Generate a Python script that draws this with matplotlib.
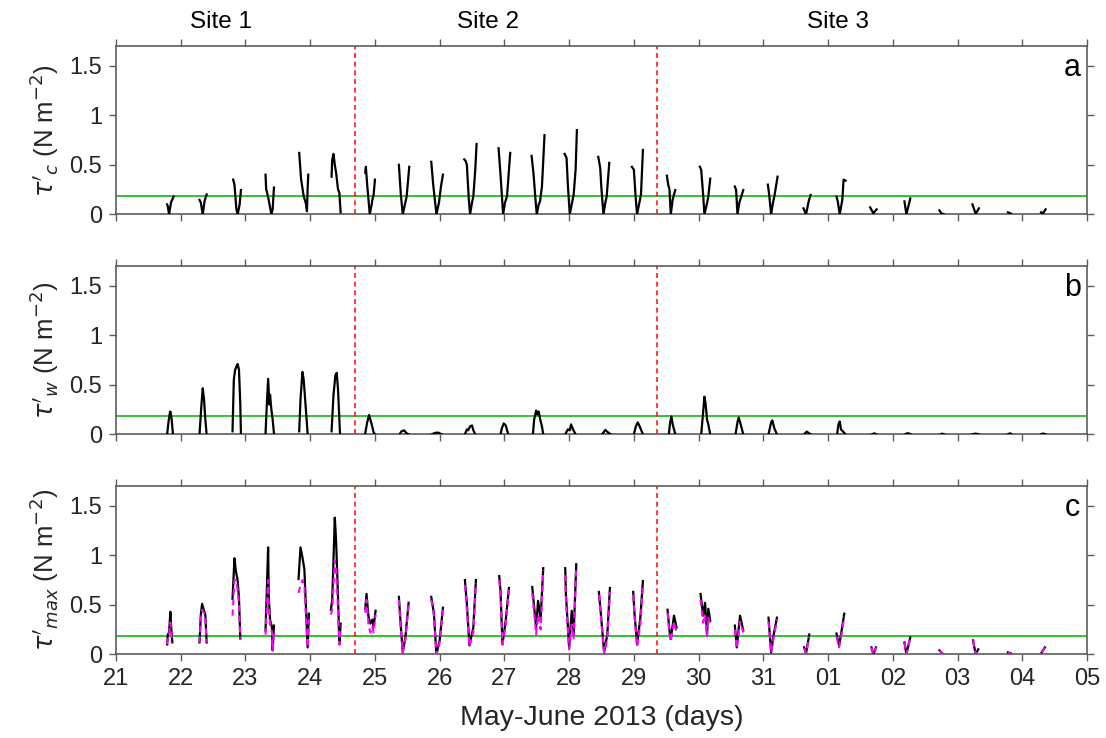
import matplotlib
matplotlib.use("Agg")
import matplotlib.pyplot as plt
import numpy as np

plt.rcParams['font.family'] = ['Liberation Sans', 'DejaVu Sans']
plt.rcParams['mathtext.fontset'] = 'dejavusans'

# ---------------- data (day of May 2013; June 1 = 32) ----------------
xticks = list(range(21, 37))
xtick_labels = ['21', '22', '23', '24', '25', '26', '27', '28', '29', '30', '31',
                '01', '02', '03', '04', '05']
yticks = [0, 0.5, 1, 1.5]
ytick_labels = ['0', '0.5', '1', '1.5']
threshold = 0.18
site_bounds = [24.69, 29.35]
site_names = ['Site 1', 'Site 2', 'Site 3']
site_label_x = [22.62, 26.75, 32.15]

# panel a: current stress bursts
tc_t = [
    [21.79, 21.80, 21.82, 21.85, 21.89],
    [22.29, 22.31, 22.34, 22.37, 22.40],
    [22.81, 22.83, 22.86, 22.88, 22.91, 22.93],
    [23.31, 23.32, 23.33, 23.36, 23.40, 23.42, 23.44],
    [23.83, 23.86, 23.90, 23.93, 23.95, 23.96, 23.97],
    [24.33, 24.34, 24.36, 24.38, 24.40, 24.43, 24.45, 24.47],
    [24.85, 24.86, 24.88, 24.92, 24.95, 24.96, 24.98, 25.00],
    [25.37, 25.40, 25.43, 25.47, 25.49, 25.53],
    [25.87, 25.90, 25.95, 25.99, 26.02, 26.05],
    [26.38, 26.40, 26.42, 26.45, 26.47, 26.50, 26.52, 26.55, 26.57],
    [26.91, 26.94, 26.98, 27.01, 27.04, 27.09],
    [27.42, 27.45, 27.48, 27.50, 27.53, 27.55, 27.58, 27.62],
    [27.93, 27.96, 27.98, 28.01, 28.04, 28.07, 28.10, 28.12],
    [28.45, 28.48, 28.50, 28.53, 28.56, 28.58, 28.62],
    [28.97, 29.00, 29.03, 29.05, 29.09, 29.11, 29.14],
    [29.51, 29.53, 29.55, 29.57, 29.60, 29.62, 29.64],
    [30.02, 30.04, 30.07, 30.09, 30.13, 30.15, 30.18],
    [30.56, 30.58, 30.60, 30.63, 30.66, 30.69],
    [31.07, 31.09, 31.12, 31.15, 31.17, 31.22],
    [31.62, 31.66, 31.70, 31.73],
    [32.13, 32.15, 32.18, 32.22, 32.24, 32.27],
    [32.65, 32.70, 32.75],
    [33.18, 33.21, 33.24, 33.27],
    [33.72, 33.75, 33.79],
    [34.23, 34.28, 34.33],
    [34.78, 34.83],
    [35.29, 35.32, 35.36],
]
tc_v = [
    [0.10, 0.08, 0.00, 0.12, 0.18],
    [0.145, 0.12, 0.00, 0.14, 0.20],
    [0.35, 0.30, 0.05, 0.00, 0.10, 0.245],
    [0.40, 0.25, 0.23, 0.14, 0.00, 0.05, 0.27],
    [0.62, 0.35, 0.18, 0.12, 0.03, 0.25, 0.40],
    [0.38, 0.55, 0.61, 0.50, 0.42, 0.25, 0.22, 0.02],
    [0.42, 0.48, 0.30, 0.00, 0.10, 0.145, 0.20, 0.35],
    [0.50, 0.20, 0.00, 0.12, 0.18, 0.48],
    [0.53, 0.30, 0.00, 0.12, 0.28, 0.40],
    [0.555, 0.54, 0.50, 0.15, 0.00, 0.12, 0.18, 0.45, 0.71],
    [0.667, 0.40, 0.00, 0.12, 0.18, 0.62],
    [0.59, 0.41, 0.15, 0.00, 0.10, 0.13, 0.28, 0.80],
    [0.61, 0.57, 0.30, 0.00, 0.10, 0.20, 0.45, 0.85],
    [0.58, 0.47, 0.25, 0.00, 0.12, 0.18, 0.52],
    [0.48, 0.45, 0.15, 0.00, 0.13, 0.20, 0.65],
    [0.39, 0.30, 0.25, 0.00, 0.15, 0.20, 0.245],
    [0.48, 0.45, 0.20, 0.00, 0.11, 0.18, 0.36],
    [0.28, 0.245, 0.00, 0.12, 0.18, 0.245],
    [0.30, 0.20, 0.00, 0.12, 0.18, 0.38],
    [0.06, 0.00, 0.13, 0.195],
    [0.18, 0.13, 0.00, 0.145, 0.35, 0.34],
    [0.07, 0.01, 0.05],
    [0.13, 0.00, 0.08, 0.16],
    [0.04, 0.01, 0.00],
    [0.10, 0.005, 0.06],
    [0.02, 0.005],
    [0.02, 0.01, 0.05],
]

# panel b: wave stress bursts
tw_t = [
    [21.79, 21.81, 21.83, 21.84, 21.86, 21.88],
    [22.29, 22.32, 22.34, 22.36, 22.38, 22.40],
    [22.80, 22.82, 22.84, 22.87, 22.88, 22.90, 22.92, 22.93],
    [23.31, 23.33, 23.35, 23.37, 23.38, 23.40, 23.42, 23.44],
    [23.83, 23.85, 23.88, 23.90, 23.94, 23.96],
    [24.33, 24.36, 24.39, 24.41, 24.43, 24.46],
    [24.85, 24.88, 24.91, 24.95, 24.98, 25.00],
    [25.38, 25.41, 25.45, 25.49, 25.52],
    [25.88, 25.93, 25.98, 26.03],
    [26.39, 26.42, 26.44, 26.47, 26.50, 26.52, 26.55],
    [26.94, 26.96, 26.99, 27.02, 27.06],
    [27.44, 27.46, 27.49, 27.51, 27.53, 27.55, 27.58, 27.60],
    [27.94, 27.98, 28.01, 28.03, 28.06, 28.10],
    [28.51, 28.56, 28.58, 28.64],
    [29.00, 29.03, 29.06, 29.09, 29.14],
    [29.54, 29.56, 29.58, 29.60, 29.64],
    [30.04, 30.07, 30.09, 30.11, 30.13, 30.15, 30.18],
    [30.57, 30.60, 30.62, 30.65, 30.69],
    [31.08, 31.12, 31.14, 31.17, 31.21],
    [31.63, 31.67, 31.73],
    [32.14, 32.16, 32.18, 32.20, 32.27],
    [32.68, 32.71, 32.75],
    [33.19, 33.23, 33.28],
    [33.74, 33.76, 33.79],
    [34.23, 34.28, 34.33],
    [34.78, 34.81, 34.84],
    [35.29, 35.32, 35.36],
]
tw_v = [
    [0.00, 0.12, 0.21, 0.23, 0.15, 0.00],
    [0.00, 0.30, 0.465, 0.35, 0.15, 0.00],
    [0.03, 0.55, 0.65, 0.70, 0.71, 0.65, 0.30, 0.01],
    [0.01, 0.30, 0.56, 0.30, 0.40, 0.25, 0.15, 0.01],
    [0.03, 0.35, 0.63, 0.55, 0.20, 0.01],
    [0.03, 0.40, 0.60, 0.62, 0.45, 0.01],
    [0.01, 0.12, 0.195, 0.10, 0.02, 0.00],
    [0.00, 0.03, 0.04, 0.01, 0.00],
    [0.00, 0.015, 0.017, 0.00],
    [0.00, 0.05, 0.04, 0.08, 0.09, 0.04, 0.00],
    [0.00, 0.06, 0.11, 0.09, 0.00],
    [0.00, 0.15, 0.24, 0.20, 0.23, 0.16, 0.08, 0.00],
    [0.00, 0.05, 0.04, 0.10, 0.05, 0.00],
    [0.00, 0.045, 0.03, 0.00],
    [0.00, 0.08, 0.12, 0.08, 0.00],
    [0.00, 0.12, 0.18, 0.10, 0.00],
    [0.00, 0.22, 0.38, 0.30, 0.15, 0.10, 0.00],
    [0.00, 0.12, 0.17, 0.10, 0.00],
    [0.00, 0.12, 0.14, 0.06, 0.00],
    [0.00, 0.027, 0.00],
    [0.00, 0.10, 0.13, 0.05, 0.00],
    [0.00, 0.01, 0.00],
    [0.00, 0.012, 0.00],
    [0.00, 0.007, 0.00],
    [0.00, 0.007, 0.00],
    [0.00, 0.01, 0.00],
    [0.00, 0.008, 0.00],
]

# panel c: maximum stress bursts (black) and alternative estimate (magenta)
tm_t = [
    [21.79, 21.80, 21.82, 21.84, 21.85, 21.87],
    [22.29, 22.31, 22.33, 22.36, 22.38, 22.40],
    [22.80, 22.83, 22.85, 22.88, 22.90, 22.92],
    [23.31, 23.35, 23.36, 23.38, 23.41, 23.42, 23.44],
    [23.82, 23.85, 23.88, 23.91, 23.92, 23.96, 23.98],
    [24.32, 24.34, 24.38, 24.40, 24.43, 24.45, 24.47],
    [24.85, 24.87, 24.90, 24.93, 24.96, 24.98, 25.01],
    [25.37, 25.40, 25.43, 25.47, 25.52],
    [25.87, 25.91, 25.95, 26.00, 26.05],
    [26.39, 26.42, 26.46, 26.52, 26.56],
    [26.92, 26.94, 26.97, 27.02, 27.07],
    [27.43, 27.47, 27.49, 27.52, 27.56, 27.60],
    [27.94, 27.95, 28.00, 28.04, 28.07, 28.11],
    [28.46, 28.49, 28.54, 28.59, 28.63],
    [28.99, 29.01, 29.05, 29.10, 29.14],
    [29.52, 29.55, 29.57, 29.62, 29.66],
    [30.03, 30.07, 30.10, 30.13, 30.15, 30.18],
    [30.56, 30.59, 30.64, 30.69],
    [31.08, 31.12, 31.16, 31.21],
    [31.63, 31.66, 31.71],
    [32.13, 32.17, 32.20, 32.25],
    [32.67, 32.70, 32.74],
    [33.18, 33.21, 33.27],
    [33.72, 33.78],
    [34.24, 34.28, 34.32],
    [34.78, 34.82],
    [35.30, 35.35],
]
tm_v = [
    [0.10, 0.20, 0.22, 0.43, 0.30, 0.12],
    [0.12, 0.40, 0.51, 0.44, 0.40, 0.12],
    [0.56, 0.97, 0.85, 0.74, 0.56, 0.16],
    [0.24, 1.08, 0.58, 0.35, 0.27, 0.04, 0.29],
    [0.76, 1.08, 0.98, 0.86, 0.70, 0.07, 0.41],
    [0.45, 0.55, 1.38, 1.15, 0.57, 0.10, 0.31],
    [0.46, 0.61, 0.38, 0.31, 0.35, 0.28, 0.44],
    [0.58, 0.28, 0.02, 0.17, 0.52],
    [0.58, 0.42, 0.00, 0.14, 0.47],
    [0.75, 0.51, 0.09, 0.27, 0.75],
    [0.79, 0.64, 0.10, 0.34, 0.67],
    [0.68, 0.41, 0.27, 0.54, 0.36, 0.87],
    [0.87, 0.61, 0.07, 0.44, 0.20, 0.91],
    [0.63, 0.41, 0.02, 0.20, 0.67],
    [0.63, 0.41, 0.10, 0.37, 0.74],
    [0.45, 0.24, 0.155, 0.39, 0.27],
    [0.61, 0.39, 0.52, 0.20, 0.46, 0.34],
    [0.29, 0.07, 0.39, 0.24],
    [0.37, 0.02, 0.20, 0.37],
    [0.07, 0.01, 0.20],
    [0.21, 0.09, 0.20, 0.41],
    [0.07, 0.00, 0.07],
    [0.12, 0.00, 0.17],
    [0.04, 0.00],
    [0.14, 0.00, 0.05],
    [0.02, 0.01],
    [0.02, 0.07],
]
tm2_v = [
    [0.10, 0.18, 0.20, 0.32, 0.25, 0.12],
    [0.12, 0.35, 0.45, 0.42, 0.35, 0.12],
    [0.39, 0.75, 0.75, 0.65, 0.50, 0.16],
    [0.20, 0.75, 0.50, 0.30, 0.22, 0.04, 0.25],
    [0.62, 0.70, 0.75, 0.70, 0.55, 0.07, 0.35],
    [0.40, 0.45, 0.95, 0.85, 0.45, 0.10, 0.28],
    [0.42, 0.55, 0.30, 0.22, 0.28, 0.22, 0.40],
    [0.55, 0.25, 0.02, 0.15, 0.50],
    [0.55, 0.40, 0.00, 0.12, 0.45],
    [0.70, 0.45, 0.08, 0.22, 0.72],
    [0.75, 0.60, 0.10, 0.30, 0.65],
    [0.62, 0.35, 0.20, 0.40, 0.25, 0.85],
    [0.80, 0.55, 0.05, 0.30, 0.15, 0.88],
    [0.60, 0.38, 0.02, 0.15, 0.63],
    [0.60, 0.38, 0.08, 0.30, 0.70],
    [0.42, 0.20, 0.13, 0.33, 0.22],
    [0.55, 0.32, 0.40, 0.18, 0.38, 0.28],
    [0.25, 0.06, 0.33, 0.22],
    [0.33, 0.02, 0.17, 0.35],
    [0.06, 0.01, 0.18],
    [0.18, 0.07, 0.17, 0.38],
    [0.07, 0.00, 0.07],
    [0.12, 0.00, 0.17],
    [0.04, 0.00],
    [0.14, 0.00, 0.05],
    [0.02, 0.01],
    [0.02, 0.07],
]

ylabels = [r"$\tau'_{c}$ (N m$^{-2}$)", r"$\tau'_{w}$ (N m$^{-2}$)",
           r"$\tau'_{max}$ (N m$^{-2}$)"]
panel_letters = ['a', 'b', 'c']


def joined(ts, vs):
    xs, ys = [], []
    for t, v in zip(ts, vs):
        xs += list(t) + [np.nan]
        ys += list(v) + [np.nan]
    return np.array(xs), np.array(ys)


# ---------------- figure ----------------
W, H = 1106, 738
fig = plt.figure(figsize=(W / 100, H / 100), dpi=100)
left, right = 116 / W, 1087 / W
tops = [46, 266, 486]
ph = 168.3
axes = []
for top in tops:
    ax = fig.add_axes([left, 1 - (top + ph) / H, right - left, ph / H])
    axes.append(ax)

spine_col = '#5c5c5c'
text_col = '#262626'
series = [(tc_t, tc_v, None), (tw_t, tw_v, None), (tm_t, tm_v, tm2_v)]

for i, ax in enumerate(axes):
    t, v, v2 = series[i]
    x, y = joined(t, v)
    ax.plot(x, y, color='black', lw=1.6, zorder=3)
    if v2 is not None:
        x2, y2 = joined(t, v2)
        ax.plot(x2, y2, color='#ff00ff', lw=1.5, ls=(0, (3, 2)), zorder=4)
    ax.axhline(threshold, color='#33c233', lw=1.4, zorder=2)
    for b in site_bounds:
        ax.axvline(b, color='#ff1a1a', lw=1.2, ls=(0, (3, 2.2)), zorder=2)
    ax.set_xlim(21, 36)
    ax.set_ylim(0, 1.7)
    ax.set_xticks(xticks)
    ax.set_yticks(yticks)
    ax.set_yticklabels(ytick_labels)
    if i == 2:
        ax.set_xticklabels(xtick_labels)
        ax.set_xlabel('May-June 2013 (days)', fontsize=20.5, color=text_col, labelpad=11)
    else:
        ax.set_xticklabels([])
    ax.tick_params(direction='out', length=5, width=1.0, colors=spine_col,
                   labelcolor=text_col, labelsize=17, top=True, right=True, pad=5)
    for s in ax.spines.values():
        s.set_color(spine_col)
        s.set_linewidth(1.2)
    ax.set_ylabel(ylabels[i], fontsize=18.5, color=text_col, labelpad=6)
    ax.text(0.985, 0.87, panel_letters[i], transform=ax.transAxes, fontsize=22,
            ha='center', va='center', color='black')

for name, xs in zip(site_names, site_label_x):
    axes[0].text(xs, 1.0 + 24 / ph, name, transform=axes[0].get_xaxis_transform(),
                 fontsize=17.5, ha='center', va='center', color='black')

fig.savefig('out.png', dpi=100)
